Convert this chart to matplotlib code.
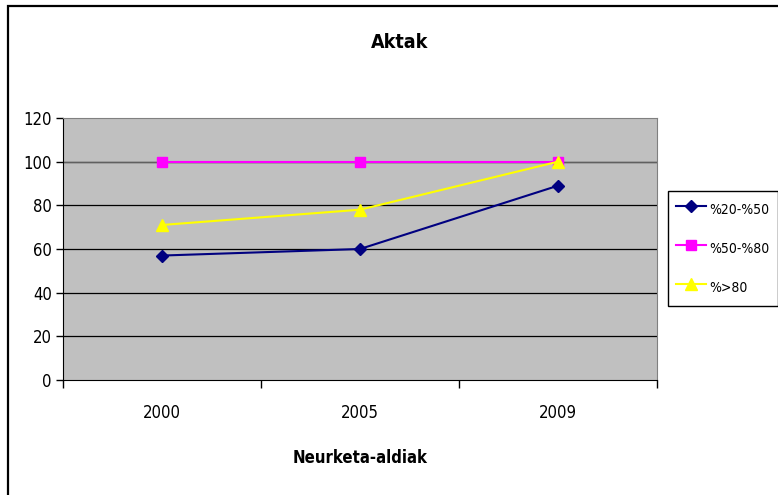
import matplotlib
matplotlib.use("Agg")
import matplotlib.pyplot as plt
from matplotlib.patches import Rectangle
from matplotlib import font_manager

years = ["2000", "2005", "2009"]
s_20_50 = [57, 60, 89]
s_50_80 = [100, 100, 100]
s_80 = [71, 78, 100]
series_labels = ["%20-%50", "%50-%80", "%>80"]
y_ticks = [0, 20, 40, 60, 80, 100, 120]

# Prefer a narrow sans face when one is installed
fonts = font_manager.fontManager.ttflist
narrow = [f for f in fonts if "Narrow" in f.name or "Condensed" in f.name
          or (str(f.stretch) in ("condensed", "semi-condensed", "extra-condensed") and "Sans" in f.name)]
stretch = "normal"
if any(f.name == "Liberation Sans Narrow" for f in fonts):
    fam = "Liberation Sans Narrow"
elif narrow:
    fam = narrow[0].name
    stretch = str(narrow[0].stretch)
else:
    fam = "Liberation Sans"
plt.rcParams["font.family"] = [fam, "DejaVu Sans"]
plt.rcParams["font.stretch"] = stretch
is_narrow = fam != "Liberation Sans"

fig = plt.figure(figsize=(7.78, 4.95), dpi=100)
W, H = 778, 495
fig.patches.append(Rectangle((8 / W, -0.1), 1.2, (H - 6) / H + 0.1, transform=fig.transFigure,
                             fill=False, edgecolor="black", linewidth=1.6, zorder=0))

ax = fig.add_axes([63 / W, (H - 380) / H, (657 - 63) / W, (380 - 118) / H])
ax.set_facecolor("#C0C0C0")

x = list(range(len(years)))
ax.plot(x, s_20_50, color="#000080", marker="D", markersize=6, linewidth=1.5, label=series_labels[0], zorder=4)
ax.plot(x, s_50_80, color="#FF00FF", marker="s", markersize=7, linewidth=1.5, label=series_labels[1], zorder=3)
ax.plot(x, s_80, color="#FFFF00", marker="^", markersize=8, linewidth=1.5, label=series_labels[2], zorder=5)

tick_fs = 12 if is_narrow else 11
ax.set_xlim(-0.5, 2.5)
ax.set_ylim(0, 120)
ax.set_yticks(y_ticks)
ax.set_yticklabels([str(v) for v in y_ticks], fontsize=tick_fs)
ax.set_xticks([0.5, 1.5, 2.5])
ax.set_xticklabels([])
ax.set_xticks([-0.5], minor=True)
for i, yr in enumerate(years):
    ax.text(i, -0.125, yr, transform=ax.get_xaxis_transform(), ha="center", va="center", fontsize=tick_fs)
ax.tick_params(axis="x", which="both", direction="out", length=6, width=1, color="black")
ax.tick_params(axis="y", direction="out", length=5, width=1, color="black", pad=3)

for v in y_ticks[1:-1]:
    ax.axhline(v, color="#000000", linewidth=0.9, zorder=1)
ax.axhline(100, color="#606060", linewidth=0.9, zorder=1)

ax.spines["left"].set_color("black")
ax.spines["bottom"].set_color("black")
ax.spines["top"].set_color("#808080")
ax.spines["right"].set_color("#808080")

fig.text(400 / W, (H - 42) / H, "Aktak", ha="center", va="center", fontsize=14, fontweight="bold")
fig.text(360 / W, (H - 458) / H, "Neurketa-aldiak", ha="center", va="center", fontsize=12, fontweight="bold")

leg = fig.legend(loc="upper left", bbox_to_anchor=(668 / W, (H - 191) / H), fontsize=10,
                 frameon=True, fancybox=False, edgecolor="black", framealpha=1,
                 borderpad=0.55, labelspacing=1.27, handlelength=2.2, handleheight=2.0,
                 handletextpad=0.25, borderaxespad=0)
leg.get_frame().set_linewidth(1.0)

fig.savefig("out.png", dpi=100)
